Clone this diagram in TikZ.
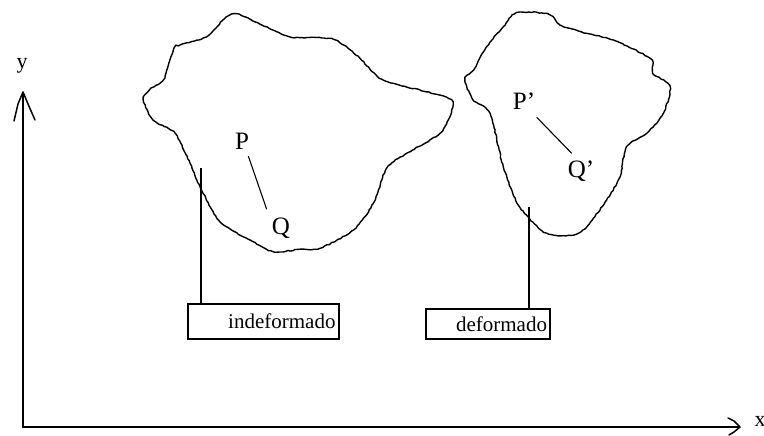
\documentclass[tikz,border=0pt]{standalone}
\usepackage{fontspec}
\setmainfont{Liberation Serif}
\usetikzlibrary{arrows.meta,decorations.pathmorphing}
\begin{document}
\begin{tikzpicture}[x=1pt,y=-1pt,
  blob/.style={line width=1.4pt,decorate,decoration={random steps,segment length=2.5pt,amplitude=0.5pt}},
  axis/.style={line width=1.5pt},
  pt/.style={inner sep=0pt,font=\fontsize{25}{28}\selectfont},
  axlbl/.style={inner sep=0pt,font=\fontsize{22}{24}\selectfont},
  tag/.style={draw,line width=1.3pt,inner sep=0pt,align=right,font=\fontsize{21}{24}\selectfont},
  link/.style={line width=1.3pt}]
\pgfmathsetseed{7}
\useasboundingbox (0,0) rectangle (764,436);
% axes
\coordinate (O) at (23,427);
\coordinate (ytop) at (23,92);
\coordinate (xend) at (740,427);
\draw[axis] (ytop) -- (O) -- (xend);
\draw[line width=1.5pt,line cap=round,line join=round] (14,121) -- (18,104) -- (ytop) -- (28,104) -- (35,120);
\draw[line width=1.5pt,line cap=round,line join=round] (728,418) -- (734,421) -- (xend) -- (734,432) -- (729,435);
\node[axlbl] (ylab) at (22,66) {y};
\node[axlbl] (xlab) at (760,421) {x};
% undeformed body
\draw[blob] plot[smooth cycle,tension=0.45] coordinates {
 (236.7,14) (276.7,31.7) (291.7,37.3) (333.3,39.3) (360,58.3) (383.3,80)
 (446.7,97.3) (451.7,110) (440,133.3) (406.7,153.3) (386.7,168.3) (373.3,203.3)
 (353.3,230) (320,248.3) (300,249.3) (273.3,251.7) (250,240) (220,221.7)
 (200,186.7) (190,163.3) (175,133.3) (153.3,120) (143.3,100) (150,89.3)
 (163.3,80) (173.3,50) (180,45) (206.7,36.7) (223.3,20)};
% deformed body
\draw[blob] plot[smooth cycle,tension=0.45] coordinates {
 (516.7,12.7) (548.3,14) (560,25) (586.7,33.3) (613.3,40) (650,58.3)
 (653.3,73.3) (670,86.7) (663.3,113.3) (646.7,133.3) (626.7,146.7) (620,176.7)
 (606.7,200) (586.7,226.7) (573.3,235) (553.3,235) (540,229.3) (518.3,205)
 (503.3,166.7) (490,113.3) (473.3,100) (465,80) (473.3,70) (486.7,46.7)
 (503.3,26.7)};
% points
\node[pt] (P) at (242,141.5) {P};
\node[pt] (Q) at (281,228) {Q};
\coordinate (p1) at (248.3,156);
\coordinate (q1) at (266.7,209.3);
\draw[link,line width=1.1pt] (p1) -- (q1);
\node[pt] (Pp) at (524,101.5) {P’};
\node[pt] (Qp) at (581,171.5) {Q’};
\coordinate (p2) at (536.7,117.3);
\coordinate (q2) at (571.7,153.3);
\draw[link,line width=1.1pt] (p2) -- (q2);
% boxes
\node[tag,minimum width=151pt,minimum height=35pt,text width=144pt] (b1) at (263.5,321.5) {indeformado};
\node[tag,minimum width=124pt,minimum height=30pt,text width=118pt] (b2) at (488,324) {deformado};
\coordinate (c1) at (201,168);
\coordinate (c2) at (529,207);
\draw[link] (c1) -- (c1 |- b1.north);
\draw[link] (c2) -- (c2 |- b2.north);
\end{tikzpicture}
\end{document}
